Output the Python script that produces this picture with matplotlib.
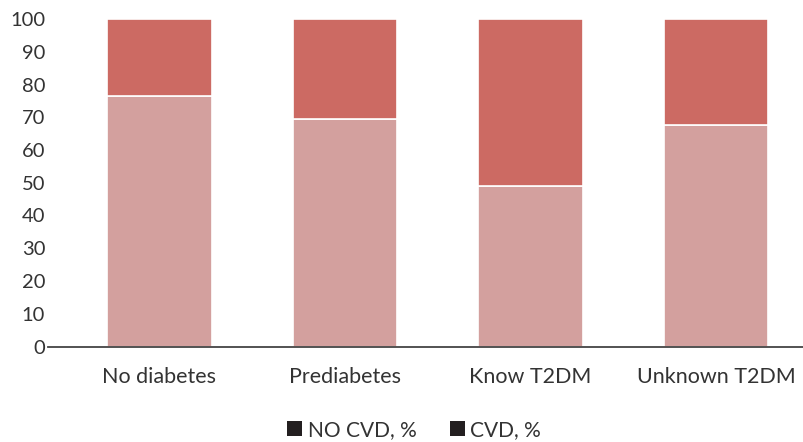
import matplotlib
matplotlib.use("Agg")
import matplotlib.pyplot as plt
from matplotlib.patches import Patch
import numpy as np

plt.rcParams['font.family'] = ['Lato', 'DejaVu Sans']

categories = ["No diabetes", "Prediabetes", "Know T2DM", "Unknown T2DM"]
no_cvd = [76.6, 69.4, 48.9, 67.6]
cvd = [23.4, 30.6, 51.1, 32.4]
yticks = [0, 10, 20, 30, 40, 50, 60, 70, 80, 90, 100]

color_no_cvd = "#d3a09e"
color_cvd = "#cc6a63"
text_color = "#333333"

fig = plt.figure(figsize=(8.04, 4.42), dpi=100)
ax = fig.add_axes([48 / 804, (442 - 346.5) / 442, 1 - 48 / 804, (346.5 - 19) / 442])

x = np.arange(len(categories))
width = 0.566
ax.bar(x, no_cvd, width, color=color_no_cvd, edgecolor="white", linewidth=1.2)
ax.bar(x, cvd, width, bottom=no_cvd, color=color_cvd, edgecolor="white", linewidth=1.2)

ax.set_xlim((48 - 159.5) / 185.5, (804 - 159.5) / 185.5)
ax.set_ylim(0, 100)
ax.set_yticks(yticks)
ax.set_yticklabels([str(t) for t in yticks])
ax.set_xticks(x)
ax.set_xticklabels(categories)

for s in ["top", "right", "left"]:
    ax.spines[s].set_visible(False)
ax.spines["bottom"].set_color("#444444")
ax.spines["bottom"].set_linewidth(1.3)

ax.tick_params(axis="y", length=0, pad=2, labelsize=14.5, labelcolor=text_color)
ax.tick_params(axis="x", length=0, pad=15, labelsize=15.5, labelcolor=text_color)

handles = [Patch(facecolor="#231f20", edgecolor="none", label="NO CVD, %"),
           Patch(facecolor="#231f20", edgecolor="none", label="CVD, %")]
fig.legend(handles=handles, loc="center", bbox_to_anchor=(414 / 804, (442 - 430) / 442),
           ncol=2, frameon=False, fontsize=15, handlelength=0.75, handleheight=0.75,
           handletextpad=0.25, columnspacing=1.6, labelcolor=text_color)

fig.savefig("out.png", dpi=100)
